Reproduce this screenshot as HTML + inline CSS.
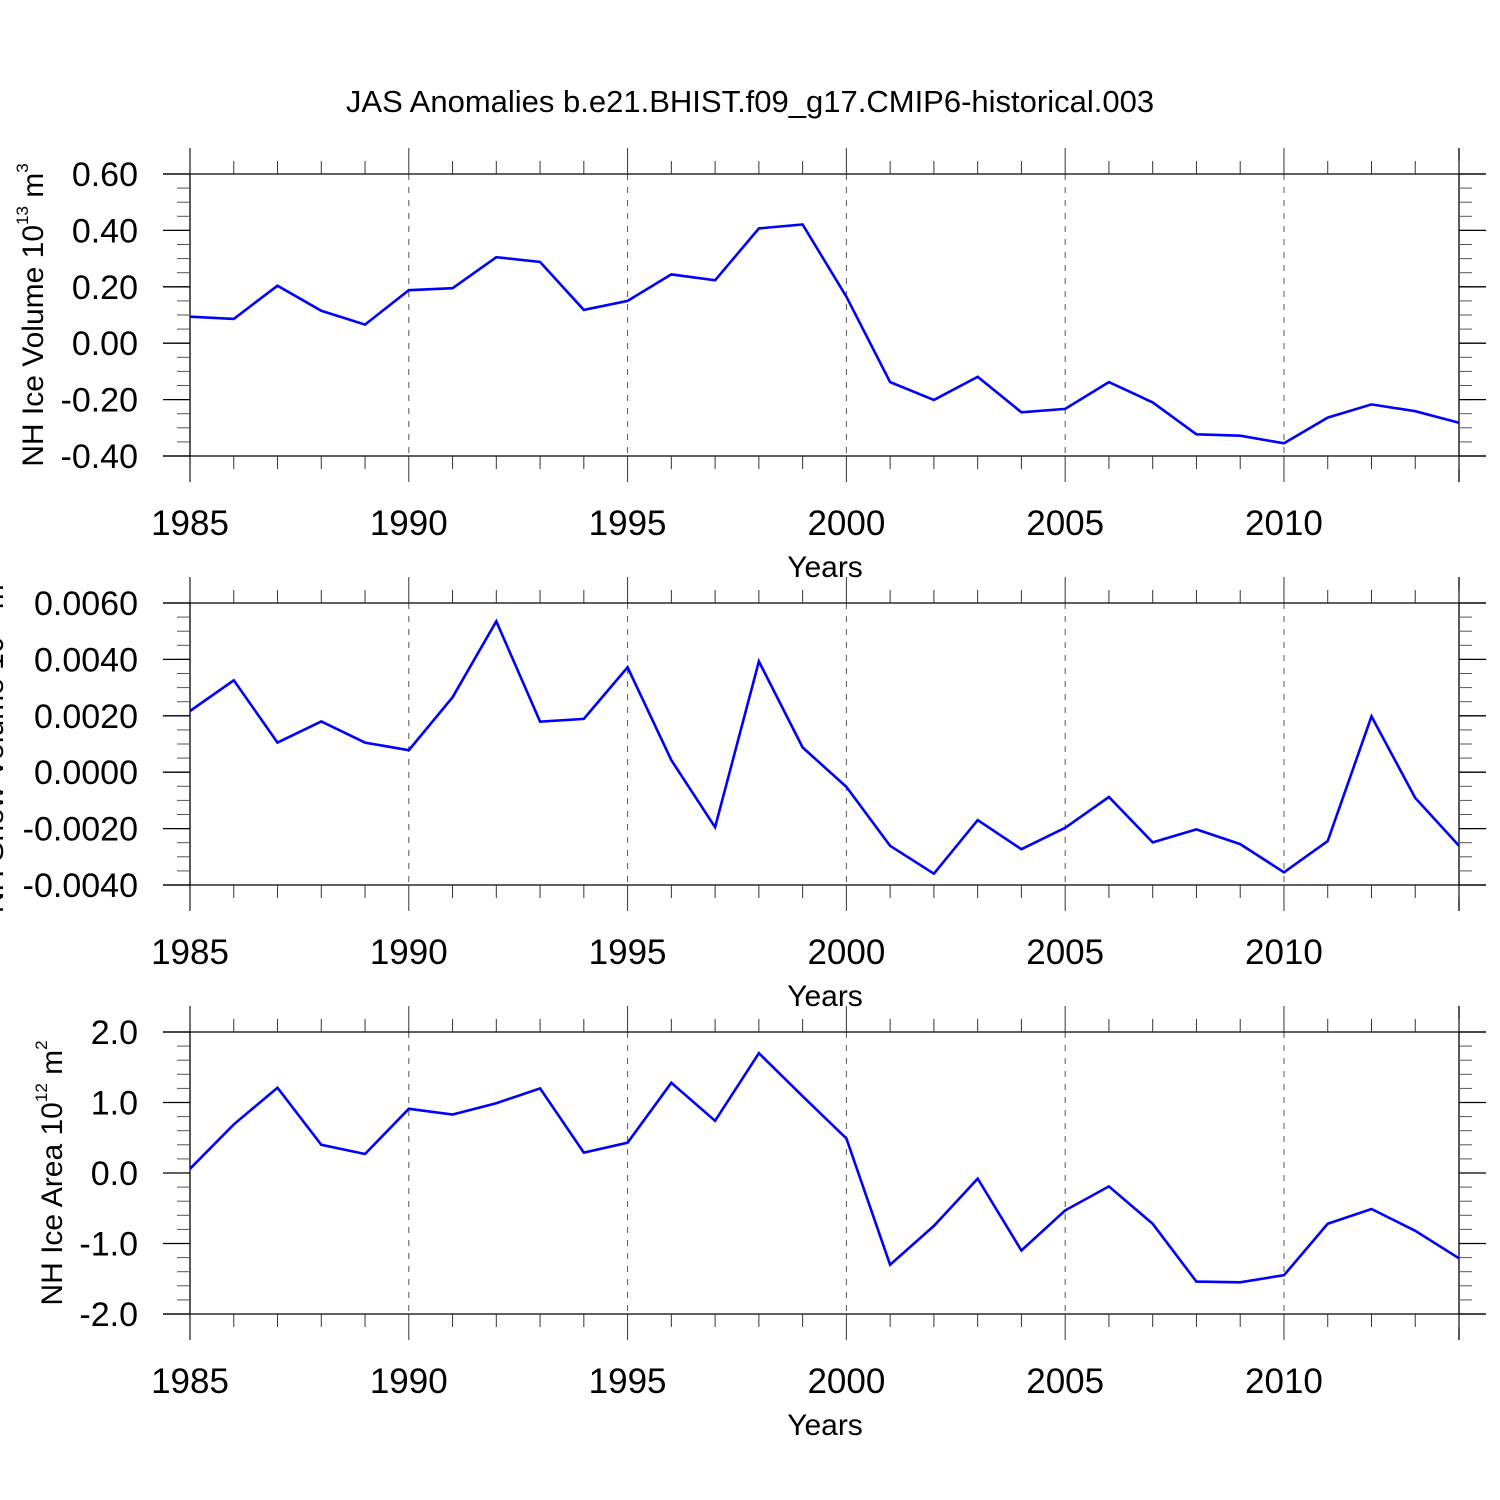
<!DOCTYPE html>
<html><head><meta charset="utf-8"><style>
html,body{margin:0;padding:0;background:#fff;}
svg{display:block;font-family:"Liberation Sans",Arial,sans-serif;}
</style></head><body>
<svg id="c" width="1500" height="1500" viewBox="0 0 1500 1500">
<text x="750" y="112" text-anchor="middle" font-size="31">JAS Anomalies b.e21.BHIST.f09_g17.CMIP6-historical.003</text>
</svg>
<script>
const years = [1985,1986,1987,1988,1989,1990,1991,1992,1993,1994,1995,1996,1997,1998,1999,2000,2001,2002,2003,2004,2005,2006,2007,2008,2009,2010,2011,2012,2013,2014];
const iceVolume = [0.094,0.086,0.204,0.115,0.066,0.188,0.195,0.305,0.288,0.118,0.150,0.244,0.223,0.407,0.421,0.165,-0.138,-0.201,-0.119,-0.245,-0.233,-0.138,-0.210,-0.323,-0.328,-0.355,-0.264,-0.217,-0.241,-0.282];
const snowVolume = [0.00217,0.00326,0.00105,0.00180,0.00105,0.00078,0.00266,0.00535,0.00179,0.00189,0.00372,0.00043,-0.00195,0.00393,0.00088,-0.00052,-0.00261,-0.00360,-0.00170,-0.00273,-0.00197,-0.00088,-0.00249,-0.00203,-0.00255,-0.00355,-0.00244,0.00198,-0.00091,-0.00261];
const iceArea = [0.06,0.69,1.21,0.40,0.27,0.91,0.83,0.99,1.20,0.29,0.43,1.28,0.74,1.70,1.09,0.49,-1.30,-0.75,-0.08,-1.10,-0.53,-0.19,-0.72,-1.54,-1.55,-1.45,-0.72,-0.51,-0.82,-1.21];
const xTickLabels = ["1985","1990","1995","2000","2005","2010"];
const volTicks = ["0.60","0.40","0.20","0.00","-0.20","-0.40"];
const snowTicks = ["0.0060","0.0040","0.0020","0.0000","-0.0020","-0.0040"];
const areaTicks = ["2.0","1.0","0.0","-1.0","-2.0"];

const NS="http://www.w3.org/2000/svg";
const svg=document.getElementById('c');
function mk(tag,attrs,parent){const e=document.createElementNS(NS,tag);for(const k in attrs)e.setAttribute(k,attrs[k]);(parent||svg).appendChild(e);return e;}
const X0=190,X1=1459,XMIN=1985,XMAX=2014;
function xs(v){return X0+(v-XMIN)*(X1-X0)/(XMAX-XMIN);}

function panel(cfg){
  const g=mk('g',{});
  
  
  const T=cfg.top,B=cfg.top+282;
  const ys=v=>T+(cfg.max-v)*(B-T)/(cfg.max-cfg.min);
  for(let y=1990;y<=2010;y+=5){
    const l=mk('line',{x1:xs(y),x2:xs(y),y1:T,y2:B,stroke:'#555','stroke-width':1,'stroke-dasharray':'6,7'},g);
    
    
  }
  mk('line',{x1:163,x2:1486,y1:T,y2:T,stroke:'#000','stroke-width':1.3},g);
  mk('line',{x1:163,x2:1486,y1:B,y2:B,stroke:'#000','stroke-width':1.3},g);
  mk('line',{x1:X0,x2:X0,y1:T-26,y2:B+26,stroke:'#000','stroke-width':1.3},g);
  mk('line',{x1:X1,x2:X1,y1:T-26,y2:B+26,stroke:'#000','stroke-width':1.3},g);
  for(let y=XMIN;y<=XMAX;y++){
    const L=(y%5===0)?26:13;
    mk('line',{x1:xs(y),x2:xs(y),y1:T-L,y2:T,stroke:'#333','stroke-width':1},g);
    mk('line',{x1:xs(y),x2:xs(y),y1:B,y2:B+L,stroke:'#333','stroke-width':1},g);
  }
  xTickLabels.forEach(s=>{
    const t=mk('text',{x:xs(+s),y:B+79,'text-anchor':'middle','font-size':35},g);
    t.textContent=s;
    
    
  });
  const xt=mk('text',{x:825,y:B+121,'text-anchor':'middle','font-size':30},g);
  xt.textContent='Years';
  
  
  const n=Math.round((cfg.max-cfg.min)/cfg.minor);
  for(let i=0;i<=n;i++){
    const y=T+i*(B-T)/n;
    mk('line',{x1:177,x2:X0,y1:y,y2:y,stroke:'#555','stroke-width':1},g);
    mk('line',{x1:X1,x2:1472,y1:y,y2:y,stroke:'#555','stroke-width':1},g);
  }
  cfg.ticks.forEach((s,i)=>{
    const y=ys(parseFloat(s));
    mk('line',{x1:163,x2:X0,y1:y,y2:y,stroke:'#000','stroke-width':1.3},g);
    mk('line',{x1:X1,x2:1486,y1:y,y2:y,stroke:'#000','stroke-width':1.3},g);
    const t=mk('text',{x:138,y:y+12,'text-anchor':'end','font-size':34},g);
    t.textContent=s;
    
    
  });
  const yt=mk('text',{x:0,y:0,'text-anchor':'middle','font-size':30,transform:`translate(${cfg.tx},${(T+B)/2}) rotate(-90)`},g);
  yt.innerHTML=cfg.label+' 10<tspan font-size="17" dy="-15">'+cfg.exp+'</tspan><tspan dy="15"> m</tspan><tspan font-size="17" dy="-15">'+cfg.unitExp+'</tspan>';
  
  
  const pts=cfg.data.map((v,i)=>xs(years[i]).toFixed(1)+','+ys(v).toFixed(1)).join(' ');
  const pl=mk('polyline',{points:pts,fill:'none',stroke:'#0000ff','stroke-width':2.6,'stroke-linejoin':'miter'},g);
  
  
}
panel({name:'ice-volume',top:174,max:0.6,min:-0.4,minor:0.05,ticks:volTicks,data:iceVolume,label:'NH Ice Volume',exp:'13',unitExp:'3',tx:43});
panel({name:'snow-volume',top:603,max:0.006,min:-0.004,minor:0.0005,ticks:snowTicks,data:snowVolume,label:'NH Snow Volume',exp:'13',unitExp:'3',tx:3});
panel({name:'ice-area',top:1032,max:2,min:-2,minor:0.2,ticks:areaTicks,data:iceArea,label:'NH Ice Area',exp:'12',unitExp:'2',tx:62});
</script>
</body></html>
